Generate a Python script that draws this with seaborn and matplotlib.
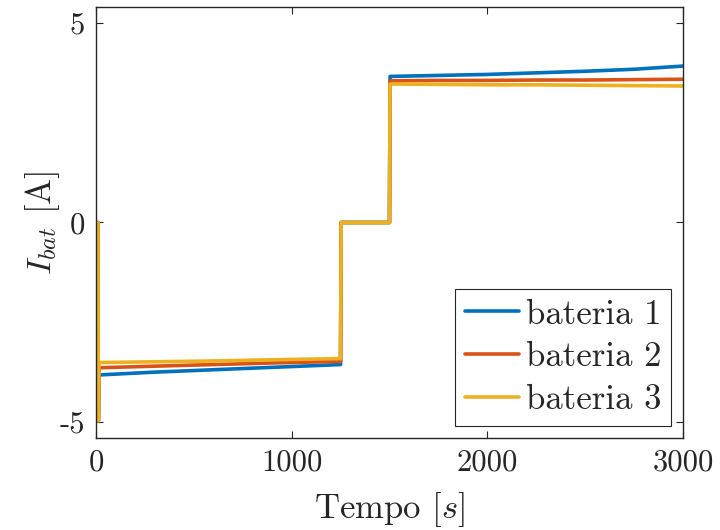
import pandas as pd
import matplotlib
matplotlib.use('Agg')
import matplotlib.pyplot as plt
import seaborn as sns

# dados
tempo = [10, 12, 15, 300, 600, 900, 1250, 1253, 1500, 1503, 1750, 2000, 2250, 2500, 2750, 3000]
bateria1 = [0, -4.97, -3.82, -3.75, -3.69, -3.63, -3.56, 0, 0, 3.66, 3.685, 3.71, 3.75, 3.79, 3.84, 3.92]
bateria2 = [0, -4.97, -3.64, -3.60, -3.56, -3.52, -3.48, 0, 0, 3.55, 3.56, 3.56, 3.57, 3.57, 3.58, 3.59]
bateria3 = [0, -4.97, -3.51, -3.49, -3.47, -3.44, -3.41, 0, 0, 3.47, 3.46, 3.45, 3.45, 3.44, 3.43, 3.42]
nomes = ['bateria 1', 'bateria 2', 'bateria 3']
cores = ['#0072BD', '#D95319', '#EDB120']

df = pd.concat([
    pd.DataFrame({'t': tempo, 'I': serie, 'bateria': nome})
    for nome, serie in zip(nomes, [bateria1, bateria2, bateria3])
])

sns.set_style('ticks')
plt.rcParams['font.family'] = 'serif'
plt.rcParams['font.serif'] = ['cmr10']
plt.rcParams['mathtext.fontset'] = 'cm'
plt.rcParams['axes.formatter.use_mathtext'] = False
plt.rcParams['axes.unicode_minus'] = False

fig = plt.figure(figsize=(7.2, 5.3), dpi=100)
ax = fig.add_axes([0.1333, 0.1736, 0.8153, 0.8132])

sns.lineplot(data=df, x='t', y='I', hue='bateria', palette=cores,
             linewidth=2.6, estimator=None, sort=False, ax=ax)

ax.set_xlim(0, 3000)
ax.set_ylim(-5.4, 5.4)
ax.set_xticks([0, 1000, 2000, 3000])
ax.set_yticks([-5, 0, 5])
ax.tick_params(direction='in', length=5, width=0.8, top=True, right=True,
               labelsize=22, colors='#262626', pad=8)
for s in ax.spines.values():
    s.set_color('#262626')
    s.set_linewidth(1.0)

ax.set_xlabel(r'Tempo $[s]$', fontsize=25, labelpad=10)
ax.set_ylabel(r'$I_{bat}$ [A]', fontsize=25, labelpad=-2)

leg = ax.legend(loc='lower right', fontsize=25, frameon=True, fancybox=False,
                framealpha=1, edgecolor='#262626', handlelength=1.55,
                handletextpad=0.2, labelspacing=0.32, borderpad=0.28,
                borderaxespad=0.35)
leg.get_frame().set_linewidth(0.8)
for ln in leg.get_lines():
    ln.set_linewidth(2.6)

fig.savefig('out.png', dpi=100)
